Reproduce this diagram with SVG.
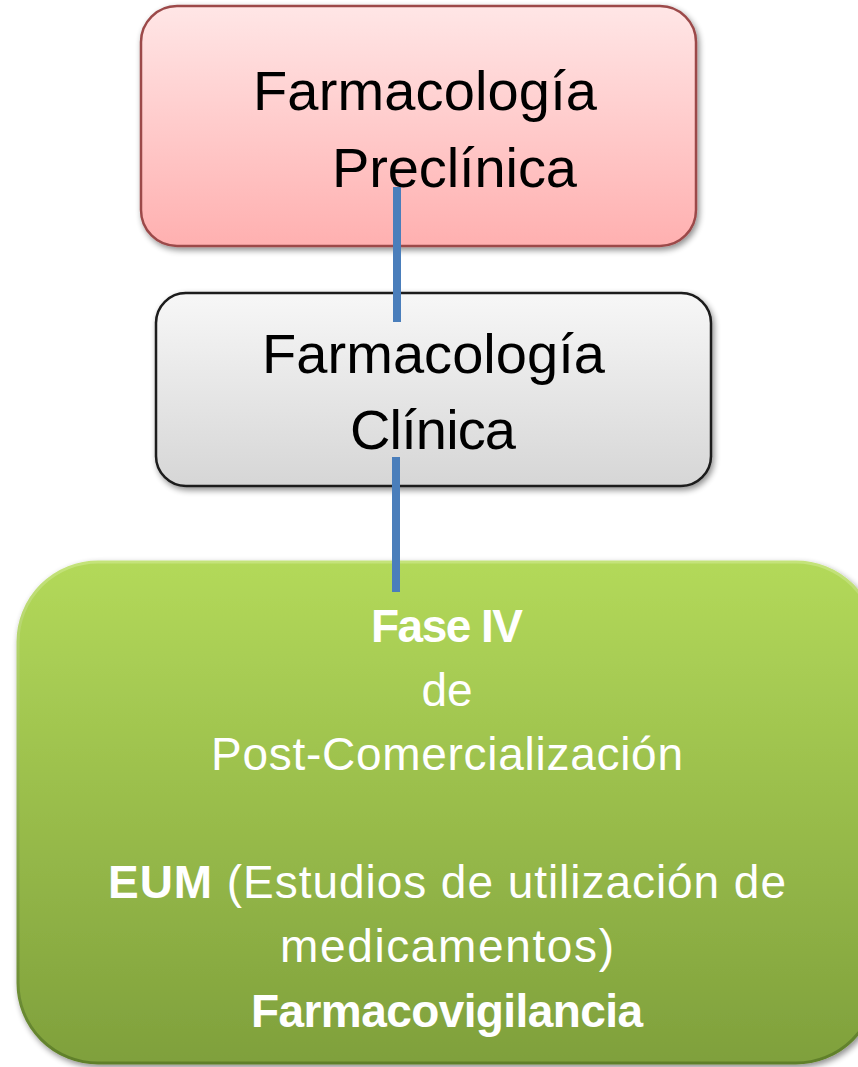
<svg xmlns="http://www.w3.org/2000/svg" width="858" height="1067" viewBox="0 0 858 1067">
<defs>
<linearGradient id="gPink" x1="0" y1="0" x2="0" y2="1">
<stop offset="0" stop-color="#ffe6e6"/><stop offset="1" stop-color="#ffb0b0"/>
</linearGradient>
<linearGradient id="gGrey" x1="0" y1="0" x2="0" y2="1">
<stop offset="0" stop-color="#f7f7f7"/><stop offset="1" stop-color="#d6d6d6"/>
</linearGradient>
<linearGradient id="gGreen" x1="0" y1="0" x2="0" y2="1">
<stop offset="0" stop-color="#b3d95a"/><stop offset="1" stop-color="#7fa03c"/>
</linearGradient>
<linearGradient id="gGreenStroke" x1="0" y1="0" x2="0" y2="1">
<stop offset="0" stop-color="#c4e37a"/><stop offset="1" stop-color="#5f7f2a"/>
</linearGradient>
<filter id="sh" x="-10%" y="-10%" width="120%" height="130%">
<feGaussianBlur in="SourceAlpha" stdDeviation="3"/>
<feOffset dx="2" dy="3"/>
<feComponentTransfer><feFuncA type="linear" slope="0.45"/></feComponentTransfer>
<feMerge><feMergeNode/><feMergeNode in="SourceGraphic"/></feMerge>
</filter>
</defs>
<style>
.t{font-family:"Liberation Sans",Arial,sans-serif;font-size:56px;fill:#000}
.w{font-family:"Liberation Sans",Arial,sans-serif;font-size:46px;fill:#fff;text-anchor:middle}
.b{font-weight:bold}
.conn{stroke:#4a7ebb;stroke-width:8;fill:none}
</style>
<g id="node-preclinica">
<rect x="141" y="6" width="555" height="240" rx="36" fill="url(#gPink)" stroke="#9c4a4a" stroke-width="2.5" filter="url(#sh)"/>
<text class="t" x="253" y="110" textLength="344">Farmacología</text>
<text class="t" x="332" y="187" textLength="245">Preclínica</text>
</g>
<g id="node-clinica">
<rect x="156" y="293" width="555" height="193" rx="30" fill="url(#gGrey)" stroke="#1a1a1a" stroke-width="2.5" filter="url(#sh)"/>
<text class="t" x="262" y="373" textLength="343">Farmacología</text>
<text class="t" x="350" y="449" textLength="166">Clínica</text>
</g>
<g id="node-fase4">
<rect x="18" y="562" width="858" height="501" rx="80" fill="url(#gGreen)" stroke="url(#gGreenStroke)" stroke-width="3" filter="url(#sh)"/>
<text class="w b" x="447" y="642" textLength="152">Fase IV</text>
<text class="w" x="447" y="706">de</text>
<text class="w" x="447" y="770" textLength="472">Post-Comercialización</text>
<text class="w" x="447" y="898" textLength="678"><tspan class="b">EUM</tspan> (Estudios de utilización de</text>
<text class="w" x="447" y="962" textLength="334">medicamentos)</text>
<text class="w b" x="447" y="1027" textLength="392">Farmacovigilancia</text>
</g>
<g id="connectors">
<line class="conn" x1="397" y1="187" x2="397" y2="322"/>
<line class="conn" x1="396" y1="457" x2="396" y2="592"/>
</g>
</svg>
